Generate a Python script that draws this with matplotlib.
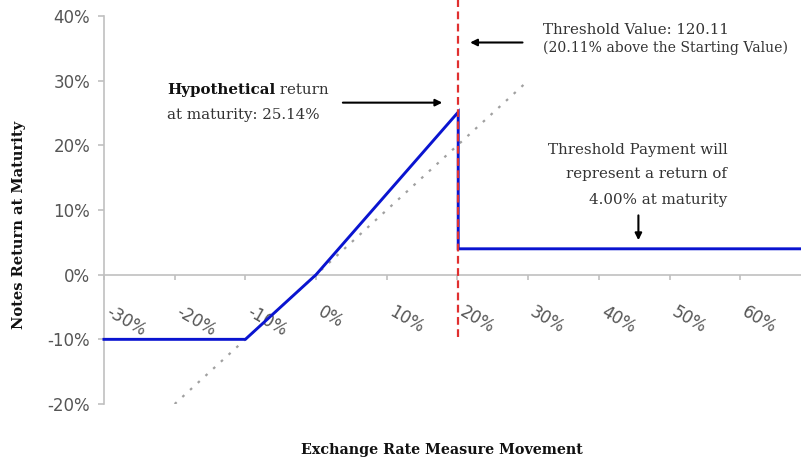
import numpy as np
import matplotlib
matplotlib.use("Agg")
import matplotlib.pyplot as plt
from matplotlib.transforms import ScaledTranslation

# exchange rate movement (%) vs notes return at maturity (%)
movement = [-30, -10, 0, 20.11, 20.11, 68.6]
notes_return = [-10, -10, 0, 25.14, 4, 4]

# 1:1 reference line (direct exposure)
ref_movement = [-20, 30]
ref_return = [-20, 30]

threshold = 20.11
x_ticks = [-30, -20, -10, 0, 10, 20, 30, 40, 50, 60]
x_tick_labels = ["-30%", "-20%", "-10%", "0%", "10%", "20%", "30%", "40%", "50%", "60%"]
y_ticks = [-20, -10, 0, 10, 20, 30, 40]
y_tick_labels = ["-20%", "-10%", "0%", "10%", "20%", "30%", "40%"]

serif = "DejaVu Serif"
grey = "#c0c0c0"
txt = "#333333"

fig = plt.figure(figsize=(8.01, 4.62), dpi=100)
ax = fig.add_axes([0.1298, 0.1255, 1 - 0.1298, 0.8399])
ax.set_xlim(-30, 68.6)
ax.set_ylim(-20, 40)

# axes styling
for s in ["top", "right"]:
    ax.spines[s].set_visible(False)
ax.spines["bottom"].set_position(("data", 0))
ax.spines["bottom"].set_color(grey)
ax.spines["left"].set_color(grey)
ax.spines["bottom"].set_linewidth(1.2)
ax.spines["left"].set_linewidth(1.2)

ax.set_xticks(x_ticks)
ax.set_xticklabels(x_tick_labels, rotation=-30, ha="left", va="top",
                   rotation_mode="anchor")
ax.set_yticks(y_ticks)
ax.set_yticklabels(y_tick_labels)
ax.tick_params(axis="x", direction="out", length=3.5, color=grey, width=1.2,
               pad=17, labelsize=12, labelcolor="#555555")
ax.tick_params(axis="y", direction="out", length=4, color=grey, width=1.2,
               pad=6, labelsize=12, labelcolor="#555555")
shift = ScaledTranslation(8 / 100, 0, fig.dpi_scale_trans)
for lab in ax.get_xticklabels():
    lab.set_transform(lab.get_transform() + shift)

# lines
ax.plot(ref_movement, ref_return, color="#a0a0a0", lw=1.6,
        linestyle=(0, (1.2, 3.5)), zorder=2)
ax.plot(movement, notes_return, color="#0a14d0", lw=2.1, zorder=3,
        clip_on=False, solid_joinstyle="miter")
ax.plot([threshold, threshold], [-9.6, 42.5], color="#e03030", lw=1.6,
        linestyle=(0, (3.5, 2)), zorder=4, clip_on=False)

# annotations
fs = 10.8
ax.text(32.1, 37.9, "Threshold Value: 120.11", fontsize=fs, family=serif,
        color=txt, ha="left", va="center")
ax.text(32.1, 35.1, "(20.11% above the Starting Value)", fontsize=10.1,
        family=serif, color=txt, ha="left", va="center")
ax.annotate("", xy=(21.4, 35.9), xytext=(29.6, 35.9),
            arrowprops=dict(arrowstyle="-|>", color="black", lw=1.5,
                            mutation_scale=10))

t = ax.text(-21.1, 28.5, "Hypothetical", fontsize=fs, family=serif,
            weight="bold", color="#111111", ha="left", va="center")
ax.annotate(" return", xy=(1, 0), xycoords=t, fontsize=fs, family=serif,
            color=txt, ha="left", va="bottom")
ax.text(-21.1, 24.7, "at maturity: 25.14%", fontsize=fs, family=serif,
        color=txt, ha="left", va="center")
ax.annotate("", xy=(18.25, 26.6), xytext=(3.4, 26.6),
            arrowprops=dict(arrowstyle="-|>", color="black", lw=1.5,
                            mutation_scale=10))

ax.text(58.2, 19.3, "Threshold Payment will", fontsize=fs, family=serif,
        color=txt, ha="right", va="center")
ax.text(58.2, 15.6, "represent a return of", fontsize=fs, family=serif,
        color=txt, ha="right", va="center")
ax.text(58.2, 11.6, "4.00% at maturity", fontsize=fs, family=serif,
        color=txt, ha="right", va="center")
ax.annotate("", xy=(45.6, 4.9), xytext=(45.6, 9.6),
            arrowprops=dict(arrowstyle="-|>", color="black", lw=1.5,
                            mutation_scale=10))

# axis titles
fig.text(19 / 801, 1 - 225 / 462, "Notes Return at Maturity", rotation=90,
         fontsize=10.5, family=serif, weight="bold", color="#111111",
         ha="center", va="center")
fig.text(442 / 801, 1 - 450 / 462, "Exchange Rate Measure Movement",
         fontsize=10.3, family=serif, weight="bold", color="#111111",
         ha="center", va="center")

fig.savefig("out.png", dpi=100)
